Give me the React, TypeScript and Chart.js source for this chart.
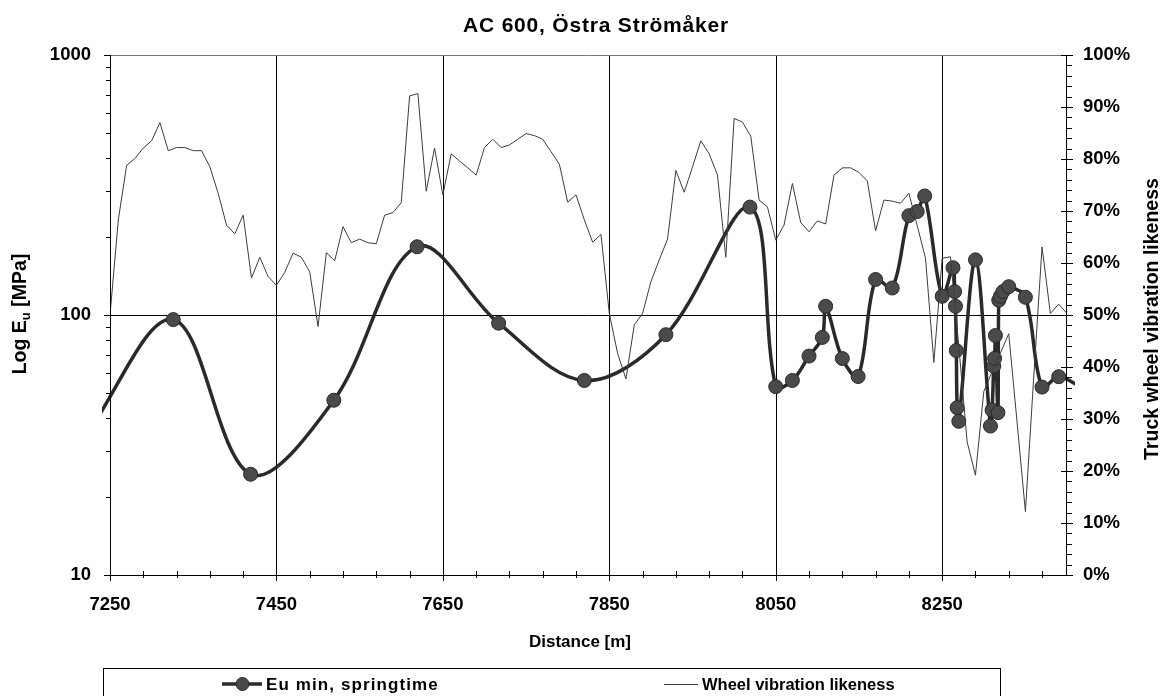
import React, { useEffect, useRef } from 'react';
import { Chart, registerables } from 'chart.js';

Chart.register(...registerables);

// ---------- text ----------
const TITLE = 'AC 600, Östra Strömåker';
const X_TITLE = 'Distance [m]';
const LEFT_TITLE_A = 'Log E';
const LEFT_TITLE_SUB = 'u';
const LEFT_TITLE_B = ' [MPa]';
const RIGHT_TITLE = 'Truck wheel vibration likeness';
const EU_LABEL = 'Eu min, springtime';
const VIB_LABEL = 'Wheel vibration likeness';

// ---------- axes ----------
const X_MIN = 7250;
const X_MAX = 8400;
const X_MAJOR_TICKS = [7250, 7450, 7650, 7850, 8050, 8250];
const X_MINOR_STEP = 40;
const Y_LOG_TICKS = [10, 100, 1000];
const Y2_MIN = 0;
const Y2_MAX = 100;
const Y2_STEP = 10;
const Y2_MINOR_STEP = 2;

// ---------- series: Eu min, springtime (MPa, log axis) ----------
const euDistance = [
  7220, 7326, 7419, 7519, 7619, 7717, 7820, 7918, 8019, 8050,
  8070, 8090, 8106, 8110, 8130, 8149, 8170, 8190, 8210, 8220,
  8229, 8250, 8263, 8265, 8266, 8267, 8268, 8270, 8290, 8308,
  8310, 8312, 8313, 8314, 8317, 8318, 8320, 8323, 8330, 8350,
  8370, 8390, 8420,
];
const euValue = [
  34, 96, 24.4, 47, 183, 93, 56, 84, 260, 53,
  56, 69.5, 82, 108, 68, 58, 137, 127, 241, 250,
  287, 118, 152, 123, 108, 73, 44, 39, 163, 37.4,
  43.1, 63.6, 68.1, 83.4, 42.1, 114, 118, 123, 128.5, 117,
  52.8, 57.9, 52,
];

// ---------- series: Wheel vibration likeness (%, right axis) ----------
const vibDistance = [
  7250, 7260, 7270, 7280, 7290, 7300, 7310, 7320, 7330, 7340,
  7350, 7360, 7370, 7380, 7390, 7400, 7410, 7420, 7430, 7440,
  7450, 7460, 7470, 7480, 7490, 7500, 7510, 7520, 7530, 7540,
  7550, 7560, 7570, 7580, 7590, 7600, 7610, 7620, 7630, 7640,
  7650, 7660, 7670, 7680, 7690, 7700, 7710, 7720, 7730, 7740,
  7750, 7760, 7770, 7780, 7790, 7800, 7810, 7820, 7830, 7840,
  7850, 7860, 7870, 7880, 7890, 7900, 7910, 7920, 7930, 7940,
  7950, 7960, 7970, 7980, 7990, 8000, 8010, 8020, 8030, 8040,
  8050, 8060, 8070, 8080, 8090, 8100, 8110, 8120, 8130, 8140,
  8150, 8160, 8170, 8180, 8190, 8200, 8210, 8220, 8230, 8240,
  8250, 8260, 8270, 8280, 8290, 8300, 8310, 8320, 8330, 8340,
  8350, 8360, 8370, 8380, 8390, 8400,
];
const vibValue = [
  50.0, 68.3, 78.8, 80.1, 82.1, 83.5, 87.0, 81.6, 82.2, 82.2,
  81.6, 81.6, 78.5, 73.4, 67.3, 65.6, 69.2, 57.1, 61.1, 57.4,
  55.7, 58.2, 61.9, 61.1, 58.3, 47.8, 62.0, 60.4, 67.0, 63.9,
  64.6, 63.9, 63.7, 69.2, 69.7, 71.6, 92.1, 92.6, 73.8, 82.1,
  73.1, 81.0, 79.6, 78.3, 76.9, 82.2, 83.8, 82.2, 82.7, 83.8,
  84.9, 84.5, 83.8, 81.4, 79.0, 71.7, 73.1, 68.3, 64.0, 65.5,
  50.3, 42.6, 37.7, 48.1, 50.3, 56.4, 60.6, 64.6, 77.8, 73.6,
  78.5, 83.5, 81.0, 76.9, 61.1, 87.8, 87.1, 84.4, 72.1, 70.8,
  64.4, 67.3, 75.3, 67.8, 66.0, 68.1, 67.5, 76.9, 78.3, 78.3,
  77.4, 75.8, 66.2, 72.1, 71.9, 71.5, 73.4, 67.2, 60.9, 40.9,
  60.9, 61.2, 44.0, 25.6, 19.2, 35.3, 39.1, 42.7, 46.4, 29.4,
  12.2, 38.0, 63.1, 50.3, 52.1, 50.3,
];

const FONT = '"Liberation Sans", Arial, Helvetica, sans-serif';
const THICK_COLOR = '#2a2a2a';
const MARKER_FILL = '#4a4a4a';
const THIN_COLOR = '#3c3c3c';

const decorPlugin = {
  id: 'decor',
  beforeDatasetsDraw(chart: any) {
    const ctx = chart.ctx;
    const { left, right, top, bottom } = chart.chartArea;
    const xs = chart.scales.x;
    const ys = chart.scales.y;
    ctx.save();
    ctx.strokeStyle = '#000';
    ctx.lineWidth = 1;
    for (const v of X_MAJOR_TICKS) {
      if (v === X_MIN) continue;
      const px = Math.round(xs.getPixelForValue(v)) + 0.5;
      ctx.beginPath();
      ctx.moveTo(px, top);
      ctx.lineTo(px, bottom);
      ctx.stroke();
    }
    for (const v of Y_LOG_TICKS) {
      const py = Math.round(ys.getPixelForValue(v)) + 0.5;
      ctx.strokeStyle = v === 1000 ? '#777' : '#000';
      ctx.beginPath();
      ctx.moveTo(left, py);
      ctx.lineTo(right, py);
      ctx.stroke();
    }
    ctx.restore();
  },
  afterDatasetsDraw(chart: any) {
    const ctx = chart.ctx;
    const { left, right, top, bottom } = chart.chartArea;
    const xs = chart.scales.x;
    const ys = chart.scales.y;
    const y2 = chart.scales.y2;
    ctx.save();
    ctx.strokeStyle = '#000';
    ctx.lineWidth = 1;
    const seg = (x1: number, y1: number, x2: number, y2p: number) => {
      ctx.beginPath();
      ctx.moveTo(x1, y1);
      ctx.lineTo(x2, y2p);
      ctx.stroke();
    };
    const bx = Math.round(bottom) + 0.5;
    const lx = Math.round(left) + 0.5;
    const rx = Math.round(right) - 0.5;
    seg(left - 6, bx, right, bx);
    seg(lx, top, lx, bottom);
    seg(rx, top, rx, bottom + 1);
    for (let v = X_MIN; v <= X_MAX; v += X_MINOR_STEP) {
      const px = Math.round(xs.getPixelForValue(v)) + 0.5;
      seg(px, bottom - 4, px, bottom + 3);
    }
    for (const v of X_MAJOR_TICKS) {
      const px = Math.round(xs.getPixelForValue(v)) + 0.5;
      seg(px, bottom - 6, px, bottom + 6);
    }
    for (let d = 10; d < 1000; d *= 10) {
      for (let m = 2; m <= 9; m++) {
        const py = Math.round(ys.getPixelForValue(d * m)) + 0.5;
        seg(left - 4, py, left, py);
      }
    }
    for (const v of Y_LOG_TICKS) {
      const py = Math.round(ys.getPixelForValue(v)) + 0.5;
      seg(left - 6, py, left, py);
    }
    for (let v = Y2_MIN; v <= Y2_MAX; v += Y2_MINOR_STEP) {
      const py = Math.round(y2.getPixelForValue(v)) + 0.5;
      seg(right, py, right + 5, py);
    }
    for (let v = Y2_MIN; v <= Y2_MAX; v += Y2_STEP) {
      const py = Math.round(y2.getPixelForValue(v)) + 0.5;
      seg(right - 6, py, right + 6, py);
    }
    ctx.restore();
  },
  afterDraw(chart: any) {
    const ctx = chart.ctx;
    const { top, bottom } = chart.chartArea;
    ctx.save();
    ctx.fillStyle = '#000';
    ctx.textBaseline = 'middle';
    ctx.textAlign = 'center';
    // title
    ctx.font = `bold 21px ${FONT}`;
    (ctx as any).letterSpacing = '0.8px';
    ctx.fillText(TITLE, 596, 26.5);
    (ctx as any).letterSpacing = '0px';
    // x title
    ctx.font = `bold 17px ${FONT}`;
    ctx.fillText(X_TITLE, 580, 642);
    // right title
    ctx.save();
    ctx.translate(1153, 319);
    ctx.rotate(-Math.PI / 2);
    ctx.font = `bold 19.5px ${FONT}`;
    ctx.textAlign = 'center';
    ctx.fillText(RIGHT_TITLE, 0, 0);
    ctx.restore();
    // left title with subscript
    ctx.save();
    ctx.translate(21, 314);
    ctx.rotate(-Math.PI / 2);
    ctx.textAlign = 'left';
    const big = `bold 19.5px ${FONT}`;
    const small = `bold 13px ${FONT}`;
    ctx.font = big;
    const w1 = ctx.measureText(LEFT_TITLE_A).width;
    const w3 = ctx.measureText(LEFT_TITLE_B).width;
    ctx.font = small;
    const w2 = ctx.measureText(LEFT_TITLE_SUB).width;
    const s = -(w1 + w2 + w3) / 2;
    ctx.font = big;
    ctx.fillText(LEFT_TITLE_A, s, 0);
    ctx.font = small;
    ctx.fillText(LEFT_TITLE_SUB, s + w1, 5);
    ctx.font = big;
    ctx.fillText(LEFT_TITLE_B, s + w1 + w2, 0);
    ctx.restore();
    // legend box
    ctx.strokeStyle = '#000';
    ctx.lineWidth = 1;
    ctx.strokeRect(103.5, 668.5, 897, 40);
    const ly = 684;
    ctx.strokeStyle = THICK_COLOR;
    ctx.lineWidth = 3.5;
    ctx.beginPath();
    ctx.moveTo(222, ly);
    ctx.lineTo(262, ly);
    ctx.stroke();
    ctx.beginPath();
    ctx.arc(242.5, ly, 6.5, 0, Math.PI * 2);
    ctx.fillStyle = MARKER_FILL;
    ctx.fill();
    ctx.lineWidth = 1;
    ctx.stroke();
    ctx.fillStyle = '#000';
    ctx.textAlign = 'left';
    ctx.font = `bold 17px ${FONT}`;
    (ctx as any).letterSpacing = '1.1px';
    ctx.fillText(EU_LABEL, 266, ly + 1);
    (ctx as any).letterSpacing = '0px';
    ctx.strokeStyle = THIN_COLOR;
    ctx.lineWidth = 1;
    ctx.beginPath();
    ctx.moveTo(664, ly + 0.5);
    ctx.lineTo(698, ly + 0.5);
    ctx.stroke();
    ctx.font = `bold 16.5px ${FONT}`;
    ctx.fillText(VIB_LABEL, 702, ly + 1);
    ctx.restore();
  },
};

export default function App() {
  const canvasRef = useRef<HTMLCanvasElement | null>(null);

  useEffect(() => {
    const canvas = canvasRef.current;
    if (!canvas) return;
    const euData = euDistance.map((d, i) => ({ x: d, y: euValue[i] }));
    const vibData = vibDistance.map((d, i) => ({ x: d, y: vibValue[i] }));
    const tickFont = { family: FONT, weight: 'bold' as const, size: 18.5 };

    const chart = new Chart(canvas, {
      type: 'line',
      data: {
        datasets: [
          {
            label: VIB_LABEL,
            data: vibData,
            yAxisID: 'y2',
            borderColor: THIN_COLOR,
            borderWidth: 1,
            pointRadius: 0,
            tension: 0,
            fill: false,
            order: 0,
          },
          {
            label: EU_LABEL,
            data: euData,
            yAxisID: 'y',
            borderColor: THICK_COLOR,
            borderWidth: 3.5,
            backgroundColor: MARKER_FILL,
            pointBackgroundColor: MARKER_FILL,
            pointBorderColor: THICK_COLOR,
            pointBorderWidth: 1,
            pointRadius: (c: any) => {
              const v = c.raw && c.raw.x;
              return v < X_MIN || v > X_MAX ? 0 : 7;
            },
            tension: 0.35,
            fill: false,
            order: 1,
            clip: { left: 8, right: 8, top: 0, bottom: 0 } as any,
          },
        ],
      },
      options: {
        responsive: false,
        animation: false,
        devicePixelRatio: 1,
        events: [],
        layout: { padding: { top: 55, left: 0, right: 0, bottom: 0 } },
        elements: { line: { capBezierPoints: false } },
        plugins: {
          legend: { display: false },
          title: { display: false },
          tooltip: { enabled: false },
        },
        scales: {
          x: {
            type: 'linear',
            min: X_MIN,
            max: X_MAX,
            grid: { display: false, drawTicks: false },
            border: { display: false },
            ticks: {
              font: tickFont,
              color: '#000',
              padding: 19,
              maxRotation: 0,
              autoSkip: false,
              callback: (v: any) => String(v),
            },
            afterBuildTicks: (scale: any) => {
              scale.ticks = X_MAJOR_TICKS.map((v) => ({ value: v }));
            },
            afterFit: (scale: any) => {
              scale.height = 121;
            },
          },
          y: {
            type: 'logarithmic',
            position: 'left',
            min: 10,
            max: 1000,
            grid: { display: false, drawTicks: false },
            border: { display: false },
            ticks: {
              font: tickFont,
              color: '#000',
              padding: 19,
              autoSkip: false,
              callback: (v: any) => String(v),
            },
            afterBuildTicks: (scale: any) => {
              scale.ticks = Y_LOG_TICKS.map((v) => ({ value: v }));
            },
            afterFit: (scale: any) => {
              scale.width = 110;
            },
          },
          y2: {
            type: 'linear',
            position: 'right',
            min: Y2_MIN,
            max: Y2_MAX,
            grid: { display: false, drawTicks: false },
            border: { display: false },
            ticks: {
              font: tickFont,
              color: '#000',
              padding: 16,
              stepSize: Y2_STEP,
              autoSkip: false,
              callback: (v: any) => `${v}%`,
            },
            afterFit: (scale: any) => {
              scale.width = 103;
            },
          },
        },
      },
      plugins: [decorPlugin],
    });
    return () => chart.destroy();
  }, []);

  return (
    <div style={{ position: 'absolute', left: 0, top: 0, width: 1170, height: 696, background: '#fff' }}>
      <canvas ref={canvasRef} width={1170} height={696} style={{ display: 'block', width: 1170, height: 696 }} />
    </div>
  );
}
